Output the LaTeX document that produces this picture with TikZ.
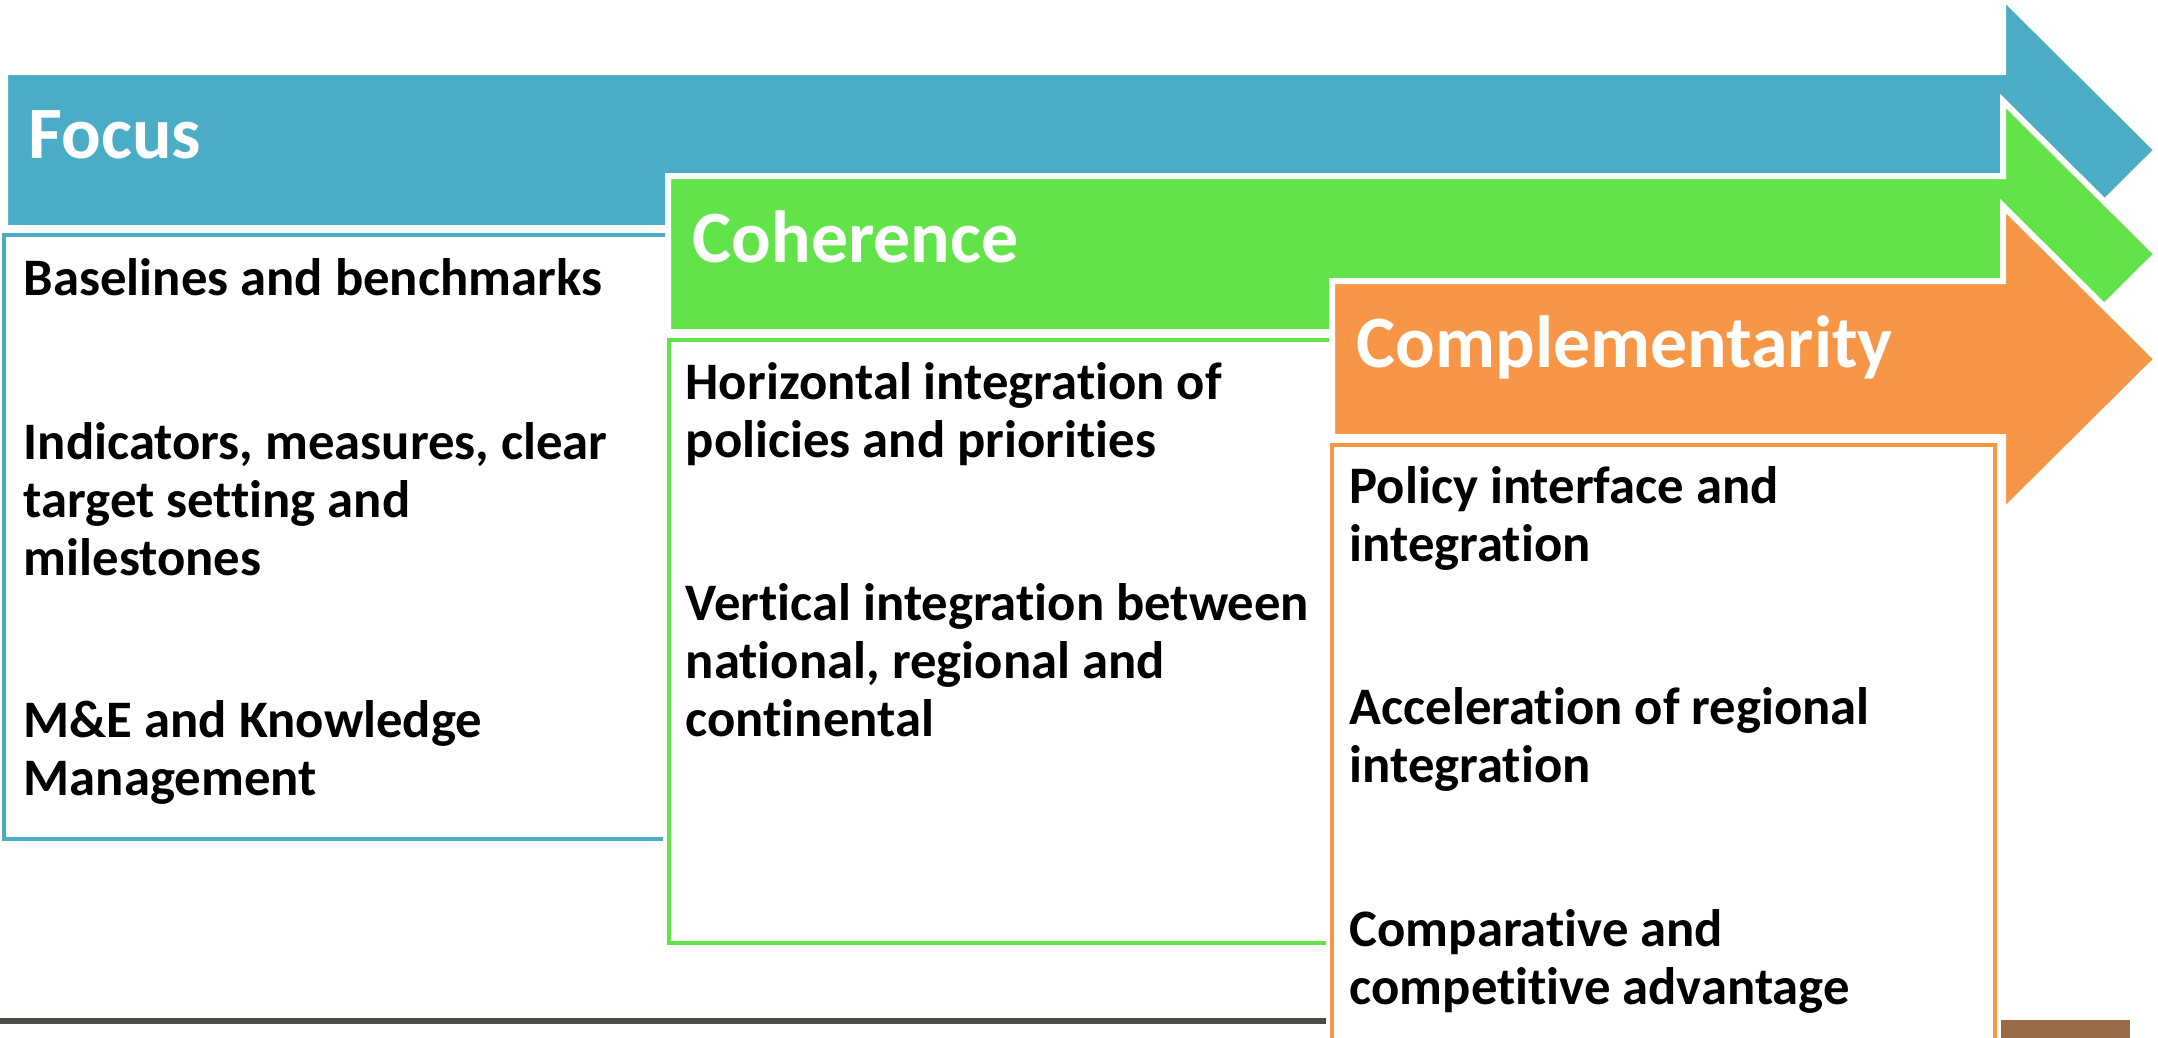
\documentclass[tikz,border=0pt]{standalone}
\usepackage{fontspec}
\setmainfont{Carlito}[Ligatures=NoCommon]
\usepackage{tikz}
\definecolor{focusblue}{HTML}{4BACC6}
\definecolor{cohgreen}{HTML}{62E34A}
\definecolor{comporange}{HTML}{F79646}
\definecolor{rulegray}{HTML}{4E4A45}
\definecolor{rulebrown}{HTML}{976C46}
\def\bigarrow[#1](#2:#3){\draw[#1] (#2, #3-78) -- (2003, #3-78) -- (2003, #3-153) -- (2157, #3) -- (2003, #3+153) -- (2003, #3+78) -- (#2, #3+78) -- cycle;}
\tikzset{
	headtext/.style={font=\fontsize{21}{25}\selectfont\bfseries, text=white, anchor=base west, inner sep=0pt},
	itemtext/.style={font=\fontsize{15}{16.4}\selectfont\bfseries, anchor=base west, align=left, inner sep=0pt},
	itembox/.style={draw=#1, line width=0.45mm, fill=white, preaction={draw=white, line width=1.2mm}}
}

\begin{document}
\begin{tikzpicture}[x=0.1mm, y=-0.1mm]
			%%%%% START %%%%%
			\useasboundingbox (0, 0) rectangle (2158, 1037);
			\clip (0, 0) rectangle (2158, 1037);
			
			\draw[line width=0.6mm, color=rulegray] (0, 1021) -- (1340, 1021);
			\fill[color=rulebrown] (1998, 1020) rectangle (2130, 1040);
			
			% focus (base anchor of a multi-line node sits on its last line)
			\bigarrow[fill=focusblue, draw=white, line width=0.6mm](5:150)
			\draw[itembox=focusblue] (4, 235) rectangle (700, 839);
			\node[headtext] (focus) at (28, 158) {Focus};
			\node[itemtext] (base) at (23, 295) {Baselines and benchmarks};
			\node[itemtext] (indic) at (23, 575) {Indicators, measures, clear\\target setting and\\milestones};
			\node[itemtext] (mande) at (23, 795) {M\&E and Knowledge\\Management};
			
			% coherence
			\bigarrow[fill=cohgreen, draw=white, line width=0.6mm](668:254)
			\draw[itembox=cohgreen] (669, 340) rectangle (1360, 943);
			\node[headtext] (coh) at (692, 262) {Coherence};
			\node[itemtext] (horiz) at (685, 457) {Horizontal integration of\\policies and priorities};
			\node[itemtext] (vert) at (685, 736) {Vertical integration between\\national, regional and\\continental};
			
			% complementarity
			\bigarrow[fill=comporange, draw=white, line width=0.6mm](1332:359)
			\draw[itembox=comporange] (1332, 445) rectangle (1995, 1060);
			\node[headtext] (comp) at (1356, 367) {Complementarity};
			\node[itemtext] (policy) at (1349, 561) {Policy interface and\\integration};
			\node[itemtext] (accel) at (1349, 782) {Acceleration of regional\\integration};
			\node[itemtext] (compar) at (1349, 1004) {Comparative and\\competitive advantage};
			
			%%%%% END %%%%%
\end{tikzpicture}
\end{document}
